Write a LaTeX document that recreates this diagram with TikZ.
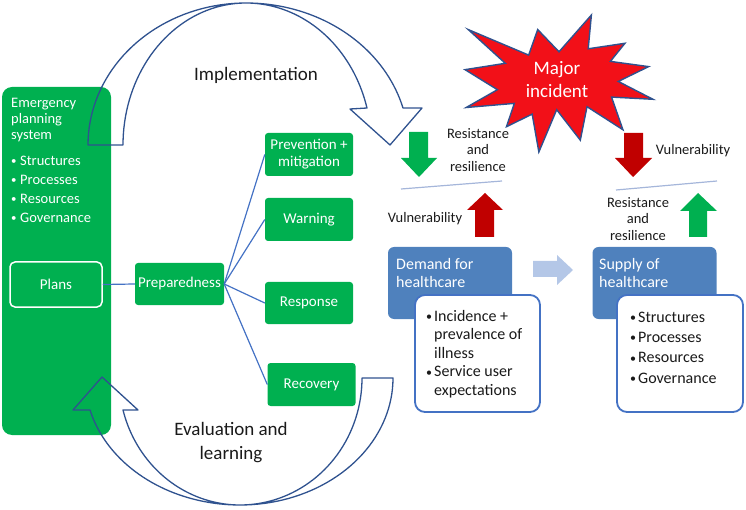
\documentclass[tikz,border=0pt]{standalone}
\usepackage{fontspec}
\setmainfont{Carlito}
\usetikzlibrary{positioning}

\definecolor{epsgreen}{RGB}{0,176,80}
\definecolor{linkblue}{RGB}{68,114,196}
\definecolor{outlineblue}{RGB}{47,82,143}
\definecolor{boxblue}{RGB}{79,129,189}
\definecolor{paleblue}{RGB}{180,199,231}
\definecolor{thinblue}{RGB}{165,182,218}
\definecolor{darkred}{RGB}{192,0,0}
\definecolor{starred}{RGB}{242,16,24}
\definecolor{textgrey}{RGB}{26,26,26}

\newcommand{\dotitem}[1]{\makebox[#1][l]{\raisebox{0.1ex}{\scalebox{0.75}{•}}}}

\tikzset{
  greenbox/.style={fill=epsgreen, rounded corners=3pt, text=white, align=center,
    font=\fontsize{15}{17}\selectfont, inner sep=0pt, minimum width=88pt, minimum height=43pt},
  link/.style={linkblue, line width=1.2pt},
  hollow/.style={outlineblue, line width=1.3pt, line join=round},
  caption/.style={text=textgrey, align=center, font=\fontsize{19}{24}\selectfont, inner sep=0pt},
  smalllab/.style={text=textgrey, align=center, font=\fontsize{14.5}{16.5}\selectfont, inner sep=0pt},
  bluebox/.style={fill=boxblue, rounded corners=6pt, minimum width=124pt, minimum height=72pt, inner sep=0pt},
  listbox/.style={draw=linkblue, fill=white, line width=1.8pt, rounded corners=10pt,
    minimum width=125pt, minimum height=117pt, inner sep=0pt},
  whitetext/.style={text=white, align=left, inner sep=0pt, anchor=west},
}

\begin{document}
\begin{tikzpicture}[x=1pt, y=-1pt]
    \useasboundingbox (0,0) rectangle (746,510);

    % emergency planning system panel
    \node[fill=epsgreen, rounded corners=10pt, minimum width=109pt, minimum height=348pt, inner sep=0pt] (eps) at (56.5,261) {};
    \node[whitetext, font=\fontsize{14.5}{16}\selectfont] (epstitle) at (11,120) {Emergency\\planning\\system};
    \node[whitetext, font=\fontsize{14.5}{19}\selectfont] (epslist) at (11,189)
        {\dotitem{9pt}Structures\\\dotitem{9pt}Processes\\\dotitem{9pt}Resources\\\dotitem{9pt}Governance};
    \node[draw=white, line width=1.5pt, rounded corners=5pt, minimum width=92pt, minimum height=45pt,
        text=white, font=\fontsize{15}{17}\selectfont] (plans) at (56,284.5) {Plans};

    % preparedness and its phases
    \node[greenbox, minimum width=89pt, minimum height=42pt] (prep) at (179.5,284) {Preparedness};
    \node[greenbox] (prev) at (309,154.5) {Prevention +\\mitigation};
    \node[greenbox] (warn) at (309,219.5) {Warning};
    \node[greenbox, minimum height=42pt] (resp) at (309,303) {Response};
    \node[greenbox] (recov) at (311.5,384.5) {Recovery};

    \draw[link] (plans.east) -- (prep.west);
    \draw[link] (prep.east) -- (prev.west);
    \draw[link] (prep.east) -- (warn.west);
    \draw[link] (prep.east) -- (resp.west);
    \draw[link] (prep.east) -- (recov.west);

    % implementation arrow
    \draw[hollow] (88,145) -- (123,145)
        -- plot[domain=180:90, samples=40] ({246+123*cos(\x)},{145-142*sin(\x)})
        -- plot[domain=90:15.1, samples=40] ({246+125.3*cos(\x)},{145-142*sin(\x)})
        -- (350,109) -- (390,145) -- (422,108)
        -- plot[domain=15.1:90, samples=40] ({246+162.6*cos(\x)},{145-142*sin(\x)})
        -- plot[domain=90:180, samples=40] ({246+158*cos(\x)},{145-142*sin(\x)})
        -- cycle;
    \node[caption] (impl) at (256,75) {Implementation};

    % evaluation arrow
    \draw[hollow] (362,378) -- (393,378)
        -- plot[domain=0:90, samples=40] ({240+153*cos(\x)},{378+127*sin(\x)})
        -- plot[domain=90:165.4, samples=40] ({240+155*cos(\x)},{378+127*sin(\x)})
        -- (73,410) -- (102,377) -- (138,410)
        -- plot[domain=165.4:90, samples=40] ({240+120.9*cos(\x)},{378+127*sin(\x)})
        -- plot[domain=90:0, samples=40] ({240+122*cos(\x)},{378+127*sin(\x)})
        -- cycle;
    \node[caption] (evallab) at (231,443) {Evaluation and\\learning};

    % major incident
    \begin{scope}[shift={(465,15)}, xscale=0.8704, yscale=0.6343]
        \filldraw[fill=starred, draw=outlineblue, line width=1.4pt, line join=miter]
            (108,58) -- (83.52,22.95) -- (73.12,63.20) -- (3.70,22.95) -- (46.27,76.17)
            -- (0,86.15) -- (37.22,117.75) -- (1.35,145.87) -- (56.67,139.37) -- (47.62,176.17)
            -- (77.15,156.27) -- (84.85,216) -- (105.32,149.35) -- (132.47,197.37) -- (140.20,144.57)
            -- (181.45,180.95) -- (168.37,129.42) -- (216,132.90) -- (176.07,104.75) -- (210.97,81.37)
            -- (167.02,73.15) -- (183.80,44.57) -- (141.55,53.25) -- (145.22,0) -- cycle;
    \end{scope}
    \node[caption, text=white, font=\fontsize{19}{23}\selectfont] (incident) at (557,80) {Major\\incident};

    % demand side pressures
    \fill[epsgreen] (409,132) -- (428,132) -- (428,158) -- (437,158) -- (419,177) -- (401,158) -- (409,158) -- cycle;
    \node[smalllab] (resL) at (478,150) {Resistance\\and\\resilience};
    \draw[thinblue, line width=1.2pt] (401,189) -- (502,181);
    \fill[darkred] (475,237) -- (494,237) -- (494,210) -- (503,210) -- (485,193) -- (467,210) -- (475,210) -- cycle;
    \node[smalllab] (vulL) at (425,219) {Vulnerability};

    % supply side pressures
    \fill[darkred] (624,133) -- (643,133) -- (643,158) -- (652,158) -- (633,177) -- (615,158) -- (624,158) -- cycle;
    \node[smalllab] (vulR) at (693,151) {Vulnerability};
    \draw[thinblue, line width=1.2pt] (616,190) -- (717,181);
    \fill[epsgreen] (689,237) -- (707,237) -- (707,211) -- (717,211) -- (698,193) -- (680,211) -- (689,211) -- cycle;
    \node[smalllab] (resR) at (638,219) {Resistance\\and\\resilience};

    % healthcare boxes
    \node[bluebox] (demand) at (450,283) {};
    \node[whitetext, font=\fontsize{16}{18}\selectfont] (demandlab) at (396,273) {Demand for\\healthcare};
    \node[listbox] (demandlist) at (477.5,353.5) {};
    \node[whitetext, text=textgrey, font=\fontsize{16}{18.5}\selectfont] (demanditems) at (426,354)
        {\dotitem{8pt}Incidence +\\\hspace*{8pt}prevalence of\\\hspace*{8pt}illness\\\dotitem{8pt}Service user\\\hspace*{8pt}expectations};

    \fill[paleblue] (533,261) -- (557,261) -- (557,255) -- (573,270) -- (557,285) -- (557,277) -- (533,277) -- cycle;

    \node[bluebox] (supply) at (654.5,283) {};
    \node[whitetext, font=\fontsize{16}{18}\selectfont] (supplylab) at (599,273) {Supply of\\healthcare};
    \node[listbox, minimum width=126pt] (supplylist) at (680,353.5) {};
    \node[whitetext, text=textgrey, font=\fontsize{16}{20.3}\selectfont] (supplyitems) at (630,347.5)
        {\dotitem{8pt}Structures\\\dotitem{8pt}Processes\\\dotitem{8pt}Resources\\\dotitem{8pt}Governance};
\end{tikzpicture}
\end{document}
